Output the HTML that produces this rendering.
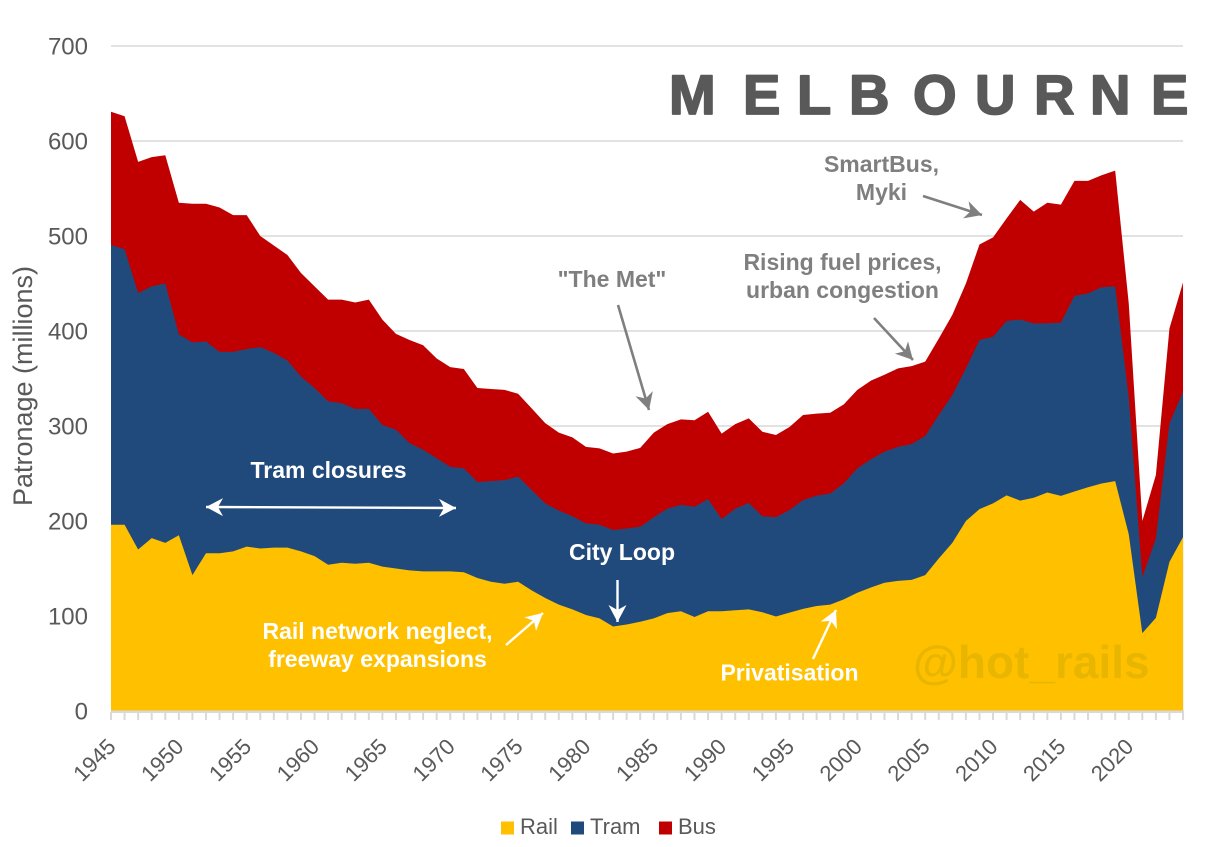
<!DOCTYPE html>
<html>
<head>
<meta charset="utf-8">
<style>
  html,body{margin:0;padding:0;background:#fff;}
  svg{display:block;font-family:"Liberation Sans",Arial,sans-serif;}
</style>
</head>
<body>
<svg width="1205" height="847" viewBox="0 0 1205 847" xmlns="http://www.w3.org/2000/svg">
  <defs>
    <marker id="ahw" markerUnits="userSpaceOnUse" markerWidth="22" markerHeight="22" viewBox="-19 -11 22 22" refX="0" refY="0" orient="auto-start-reverse">
      <path d="M0,0 L-17,-9 L-12,0 L-17,9 Z" fill="#ffffff"/>
    </marker>
    <marker id="ahg" markerUnits="userSpaceOnUse" markerWidth="22" markerHeight="22" viewBox="-19 -11 22 22" refX="0" refY="0" orient="auto">
      <path d="M0,0 L-17,-9 L-12,0 L-17,9 Z" fill="#7f7f7f"/>
    </marker>
    <pattern id="tk" x="110" y="712" width="13.57" height="8" patternUnits="userSpaceOnUse">
      <rect x="0" y="0" width="2" height="8" fill="#d9d9d9"/>
    </pattern>
  </defs>

  <rect width="1205" height="847" fill="#fff"/>

  <!-- gridlines -->
  <g stroke="#d9d9d9" stroke-width="1.6">
    <line x1="111" y1="46" x2="1183" y2="46"/>
    <line x1="111" y1="141" x2="1183" y2="141"/>
    <line x1="111" y1="236" x2="1183" y2="236"/>
    <line x1="111" y1="331" x2="1183" y2="331"/>
    <line x1="111" y1="426" x2="1183" y2="426"/>
    <line x1="111" y1="521" x2="1183" y2="521"/>
    <line x1="111" y1="616" x2="1183" y2="616"/>
  </g>

  <!-- areas in data coords -->
  <g transform="matrix(13.57 0 0 -0.95 111 711)">
    <polygon fill="#c00000" points="0,0 0,630.8 1,626 2,578 3,583 4,585 5,535 6,534 7,534 8,530 9,522 10,522 11,500 12,490 13,480 14,461 15,447 16,433 17,433 18,430 19,433 20,412 21,397 22,390.5 23,385 24,371 25,362 26,360 27,340 28,339 29,338 30,334 31,318.6 32,303 33,293 34,288 35,278 36,276.5 37,271 38,273 39,277 40,293 41,302 42,307 43,306 44,315 45,292 46,302 47,308 48,294 49,290.5 50,299 51,311.6 52,313 53,314 54,322.8 55,338 56,347.7 57,354 58,360.7 59,363 60,367.7 61,392 62,417 63,450 64,491 65,498.6 66,518.6 67,538 68,525.6 69,535 70,533 71,558 72,558 73,564 74,568.8 75,429 76,200 77,248.4 78,402.8 79,451 79,0"/>
    <polygon fill="#214a7c" points="0,0 0,490.5 1,486 2,440 3,447 4,450 5,396.5 6,388 7,389 8,378 9,378 10,381 11,383 12,377 13,369 14,352 15,340 16,326 17,324 18,318 19,318 20,301 21,296 22,282 23,275 24,266 25,257 26,255.5 27,241 28,242 29,243 30,246.7 31,232.6 32,218.6 33,211 34,205 35,197.5 36,196 37,190.5 38,192 39,194 40,204 41,213 42,217 43,215 44,223 45,202 46,213 47,219 48,205 49,204 50,211.6 51,222 52,226.7 53,229 54,239.6 55,255.4 56,265 57,273 58,278 59,281 60,289.5 61,311.6 62,332.6 63,360.7 64,390.5 65,394 66,410.5 67,412 68,408 69,408 70,408.8 71,437 72,439.6 73,446 74,447 75,330 76,141 77,181.7 78,302.8 79,336 79,0"/>
    <polygon fill="#ffc000" points="0,0 0,196 1,196 2,170 3,182 4,177 5,185 6,143 7,166 8,166 9,168 10,173 11,171 12,172 13,172 14,168 15,163 16,154 17,156 18,155 19,156 20,152 21,150 22,148 23,147 24,147 25,147 26,146 27,140 28,136 29,134 30,136 31,127 32,119 33,112 34,107 35,101 36,97.5 37,89 38,91 39,94 40,97.5 41,103 42,105 43,99 44,105 45,105 46,106 47,107 48,104 49,99.5 50,103.5 51,107.5 52,110.5 53,112 54,117.5 55,124.5 56,130 57,135 58,137 59,138 60,143 61,160.5 62,177 63,200 64,212.5 65,218.5 66,227 67,221.5 68,224.5 69,230 70,226.5 71,231 72,235.5 73,239.5 74,242 75,186 76,82 77,98 78,157 79,183 79,0"/>
  </g>

  <!-- axis line and ticks -->
  <rect x="111" y="710.5" width="1073" height="2.5" fill="#d9d9d9"/>
  <rect x="110" y="712" width="1076" height="8" fill="url(#tk)"/>

  <!-- y tick labels -->
  <g font-size="24" fill="#595959" text-anchor="end">
    <text x="88" y="54.5">700</text>
    <text x="88" y="149.5">600</text>
    <text x="88" y="244.5">500</text>
    <text x="88" y="339.5">400</text>
    <text x="88" y="434.5">300</text>
    <text x="88" y="529.5">200</text>
    <text x="88" y="624.5">100</text>
    <text x="88" y="719.5">0</text>
  </g>

  <!-- y axis title -->
  <text transform="translate(32,386) rotate(-90)" font-size="27" fill="#595959" text-anchor="middle">Patronage (millions)</text>

  <!-- x tick labels -->
  <g font-size="22" fill="#595959" text-anchor="end">
    <text transform="translate(117,748) rotate(-45)">1945</text>
    <text transform="translate(184.85,748) rotate(-45)">1950</text>
    <text transform="translate(252.7,748) rotate(-45)">1955</text>
    <text transform="translate(320.55,748) rotate(-45)">1960</text>
    <text transform="translate(388.4,748) rotate(-45)">1965</text>
    <text transform="translate(456.25,748) rotate(-45)">1970</text>
    <text transform="translate(524.1,748) rotate(-45)">1975</text>
    <text transform="translate(591.95,748) rotate(-45)">1980</text>
    <text transform="translate(659.8,748) rotate(-45)">1985</text>
    <text transform="translate(727.65,748) rotate(-45)">1990</text>
    <text transform="translate(795.5,748) rotate(-45)">1995</text>
    <text transform="translate(863.35,748) rotate(-45)">2000</text>
    <text transform="translate(931.2,748) rotate(-45)">2005</text>
    <text transform="translate(999.05,748) rotate(-45)">2010</text>
    <text transform="translate(1066.9,748) rotate(-45)">2015</text>
    <text transform="translate(1134.75,748) rotate(-45)">2020</text>
  </g>

  <!-- legend -->
  <g font-size="22" fill="#595959">
    <rect x="501" y="821.5" width="13" height="13" fill="#ffc000"/>
    <text x="520" y="834">Rail</text>
    <rect x="571" y="821.5" width="13" height="13" fill="#214a7c"/>
    <text x="590" y="834">Tram</text>
    <rect x="659" y="821.5" width="13" height="13" fill="#c00000"/>
    <text x="678" y="834">Bus</text>
  </g>

  <!-- title -->
  <g font-size="56" font-weight="bold" fill="#595959" stroke="#595959" stroke-width="1.8" stroke-linejoin="round">
    <text x="669" y="114">M</text>
    <text x="743" y="114">E</text>
    <text x="797" y="114">L</text>
    <text x="849" y="114">B</text>
    <text x="913" y="114">O</text>
    <text x="975" y="114">U</text>
    <text x="1034" y="114">R</text>
    <text x="1090" y="114">N</text>
    <text x="1151" y="114">E</text>
  </g>

  <!-- watermark -->
  <text x="913" y="678" font-size="46" font-weight="bold" fill="#e8b600">@hot_rails</text>

  <!-- white annotations -->
  <g font-size="23" font-weight="bold" fill="#ffffff" text-anchor="middle">
    <text x="328.5" y="478">Tram closures</text>
    <text x="622" y="560">City Loop</text>
    <text x="377.5" y="639">Rail network neglect,</text>
    <text x="377.5" y="667">freeway expansions</text>
    <text x="789.5" y="680.5">Privatisation</text>
  </g>
  <g stroke="#ffffff" stroke-width="2.4" fill="none">
    <line x1="206" y1="507" x2="456" y2="508" marker-start="url(#ahw)" marker-end="url(#ahw)"/>
    <line x1="617.5" y1="580" x2="617.5" y2="622" marker-end="url(#ahw)"/>
    <line x1="506" y1="645" x2="543" y2="613" marker-end="url(#ahw)"/>
    <line x1="813" y1="659" x2="836" y2="610" marker-end="url(#ahw)"/>
  </g>

  <!-- grey annotations -->
  <g font-size="23" font-weight="bold" fill="#7f7f7f" text-anchor="middle">
    <text x="612" y="287">"The Met"</text>
    <text x="842.5" y="270">Rising fuel prices,</text>
    <text x="842.5" y="298">urban congestion</text>
    <text x="881.5" y="172">SmartBus,</text>
    <text x="881.5" y="200">Myki</text>
  </g>
  <g stroke="#7f7f7f" stroke-width="2.6" fill="none">
    <line x1="618" y1="305" x2="649" y2="410" marker-end="url(#ahg)"/>
    <line x1="874" y1="318" x2="913" y2="360" marker-end="url(#ahg)"/>
    <line x1="923" y1="196" x2="982" y2="215" marker-end="url(#ahg)"/>
  </g>
</svg>
</body>
</html>
